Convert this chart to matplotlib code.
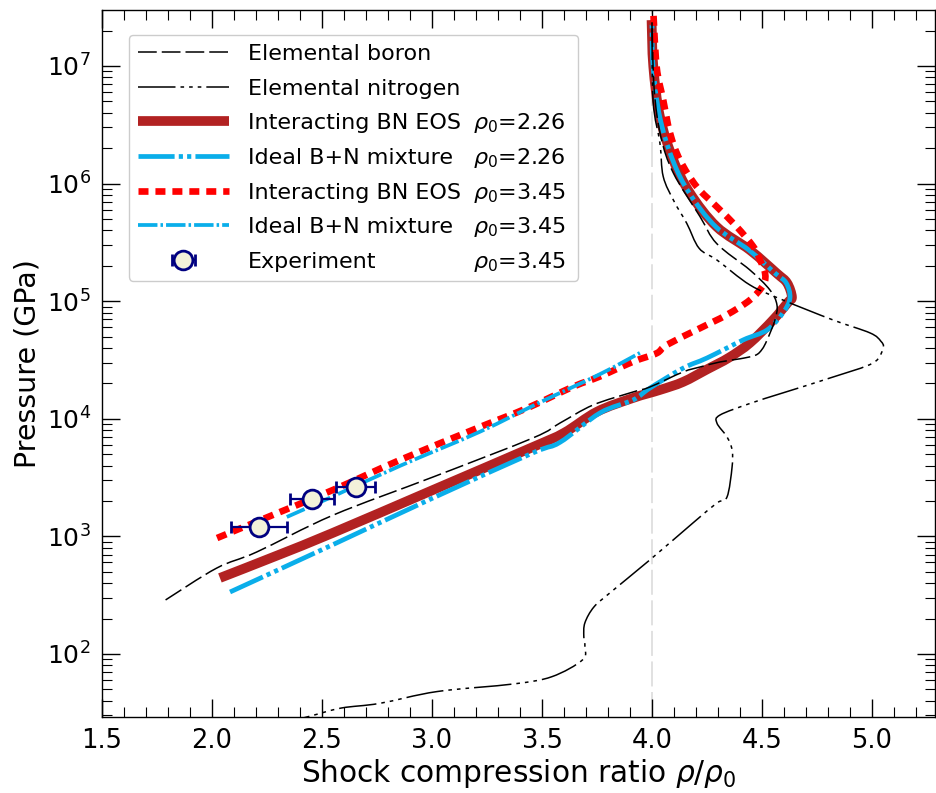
import numpy as np
import matplotlib
matplotlib.use("Agg")
import matplotlib.pyplot as plt
from matplotlib.ticker import MultipleLocator, LogLocator, FixedLocator, NullFormatter
from matplotlib.path import Path
from matplotlib.patches import PathPatch
from matplotlib.lines import Line2D

plt.rcParams['font.family'] = ['DejaVu Sans']
plt.rcParams['mathtext.fontset'] = 'dejavusans'
plt.rcParams['lines.scale_dashes'] = False

# Hugoniot curves: shock compression ratio rho/rho0 and pressure (GPa)
boron_x = [1.789, 2.021, 2.203, 2.55, 3.005, 3.459, 3.582, 3.732, 3.914, 3.99,
           4.141, 4.218, 4.309, 4.40, 4.47, 4.50, 4.523, 4.559, 4.568, 4.536,
           4.445, 4.294, 4.218, 4.097, 4.04, 4.01, 4.0]
boron_p = [288, 537, 736, 1514, 3199, 6871, 9204, 13090, 16900, 18620,
           25000, 27540, 30410, 32360, 34670, 38900, 46770, 69180, 92900, 124500,
           184100, 309000, 524800, 1.23e6, 2.51e6, 6.31e6, 2.34e7]

nitrogen_x = [4.0, 4.005, 4.036, 4.051, 4.10, 4.158, 4.214, 4.295, 4.445, 4.595,
              4.823, 4.991, 5.04, 5.05, 5.005, 4.823, 4.595, 4.445, 4.309, 4.295,
              4.341, 4.364, 4.364, 4.341, 4.295, 4.186, 3.99, 3.809, 3.736, 3.695,
              3.69, 3.695, 3.684, 3.545, 3.371, 3.023, 2.762, 2.588, 2.449, 2.30]
nitrogen_p = [2.34e7, 5.01e6, 2.21e6, 1.148e6, 7.08e5, 4.59e5, 2.82e5, 2.24e5, 1.374e5, 1.023e5,
              6.92e4, 5.37e4, 4.57e4, 3.98e4, 2.985e4, 2.265e4, 16600, 13490, 10760, 9204,
              7000, 5433, 3890, 2163, 1923, 1300, 630, 331, 251, 184,
              141, 115, 89, 64.1, 55.6, 47.9, 38.0, 34.7, 29.7, 25.1]

bn226_x = [2.036, 2.30, 2.55, 3.005, 3.459, 3.60, 3.75, 3.914, 4.036, 4.141,
           4.25, 4.35, 4.445, 4.55, 4.618, 4.636, 4.614, 4.567, 4.445, 4.294,
           4.173, 4.097, 4.036, 4.006, 3.998]
bn226_p = [443, 692, 1072, 2483, 5754, 7586, 11480, 15030, 17580, 20560,
           26300, 33110, 44160, 69180, 97720, 108600, 142900, 172600, 272300, 429500,
           827900, 1.585e6, 3.707e6, 9.86e6, 2.455e7]

ideal226_x = [2.082, 2.55, 3.005, 3.459, 3.582, 3.764, 3.914, 3.99, 4.141, 4.25,
              4.414, 4.523, 4.595, 4.627, 4.61, 4.56, 4.44, 4.29, 4.17, 4.094,
              4.035, 4.005, 4.0]
ideal226_p = [336.5, 851, 2123, 5129, 6310, 11220, 14450, 18200, 26920, 32890,
              46770, 56890, 79430, 106200, 142900, 172600, 272300, 429500, 827900, 1.585e6,
              3.707e6, 9.86e6, 2.239e7]

bn345_x = [2.023, 2.30, 2.55, 2.855, 3.218, 3.43, 3.642, 3.764, 3.915, 4.021,
           4.067, 4.218, 4.339, 4.445, 4.506, 4.514, 4.491, 4.461, 4.385, 4.294,
           4.203, 4.127, 4.082, 4.051, 4.021, 4.005]
bn345_p = [968, 1585, 2483, 4467, 8511, 12270, 18750, 22910, 30620, 36060,
           42460, 58880, 76380, 102300, 137400, 172600, 223900, 290400, 429500, 636800,
           941900, 1.585e6, 2.692e6, 5.14e6, 9.86e6, 3.16e7]

ideal345_x = [2.34, 2.55, 2.855, 3.218, 3.491, 3.764, 3.945]
ideal345_p = [1462, 2188, 3981, 7762, 13800, 23990, 36310]

exp_x = [2.215, 2.456, 2.653]
exp_p = [1208, 2065, 2612]
exp_xerr = [0.127, 0.100, 0.090]

labels = ["Elemental boron", "Elemental nitrogen", "Interacting BN EOS",
          "Ideal B+N mixture", "Interacting BN EOS", "Ideal B+N mixture", "Experiment"]
rho0_labels = [None, None, "2.26", "2.26", "3.45", "3.45", "3.45"]

xticks = [1.5, 2.0, 2.5, 3.0, 3.5, 4.0, 4.5, 5.0]
yticks = [1e2, 1e3, 1e4, 1e5, 1e6, 1e7]


def smooth_curve(xs, ps):
    """Cubic Bezier path (Catmull-Rom tangents) through the points, built in
    (x, log10 p) so that it is smooth on the log-scaled axes."""
    pts = np.column_stack([np.asarray(xs, float), np.log10(np.asarray(ps, float))])
    n = len(pts)
    verts = [pts[0]]
    codes = [Path.MOVETO]
    for i in range(n - 1):
        p0 = pts[max(i - 1, 0)]
        p1 = pts[i]
        p2 = pts[i + 1]
        p3 = pts[min(i + 2, n - 1)]
        verts += [p1 + (p2 - p0) / 6.0, p2 - (p3 - p1) / 6.0, p2]
        codes += [Path.CURVE4] * 3
    verts = np.array(verts)
    verts[:, 1] = 10.0 ** verts[:, 1]
    return Path(verts, codes)


W, H = 936, 793
fig = plt.figure(figsize=(W / 100, H / 100), dpi=100)
ax = fig.add_axes([102 / W, 76 / H, 833 / W, 707 / H])
ax.set_yscale('log')
ax.set_xlim(1.5, 1.5 + 833 / 220)
ax.set_ylim(10 ** 1.464, 10 ** 7.476)

blue = '#0AAEEA'
styles = {
    'boron': dict(color='black', lw=1.1, ls=(0, (13.5, 3.6)), z=5),
    'nitro': dict(color='black', lw=1.1, ls=(0, (27, 3.6, 2.6, 3.6, 2.6, 3.6, 2.6, 3.6)), z=5),
    'bn226': dict(color='#B22222', lw=7, ls='-', z=2),
    'id226': dict(color=blue, lw=3.4, ls=(0, (26, 3, 3, 3, 3, 3)), z=3),
    'bn345': dict(color='#FF0000', lw=4.8, ls=(0, (7.2, 5)), z=4),
    'id345': dict(color=blue, lw=2.7, ls=(0, (14, 2.2, 1.8, 2.2)), z=4.5),
}
series = {
    'boron': (boron_x, boron_p),
    'nitro': (nitrogen_x, nitrogen_p),
    'bn226': (bn226_x, bn226_p),
    'id226': (ideal226_x, ideal226_p),
    'bn345': (bn345_x, bn345_p),
    'id345': (ideal345_x, ideal345_p),
}

ax.axvline(4.0, color='#d9d9d9', lw=1.1, ls=(0, (18, 4)), zorder=1)

proxies = {}
for key, (xs, ps) in series.items():
    st = styles[key]
    patch = PathPatch(smooth_curve(xs, ps), fill=False, edgecolor=st['color'],
                      lw=st['lw'], linestyle=st['ls'], capstyle='butt',
                      joinstyle='round', zorder=st['z'], transform=ax.transData)
    ax.add_patch(patch)
    proxies[key] = Line2D([], [], color=st['color'], lw=st['lw'], ls=st['ls'],
                          solid_capstyle='butt')

h_exp = ax.errorbar(exp_x, exp_p, xerr=exp_xerr, fmt='o', ms=13.5, mfc='#F3F1DA',
                    mec='#000080', mew=2, ecolor='#000080', elinewidth=1.6,
                    capsize=4, capthick=1.6, zorder=6)

ax.set_xticks(xticks)
ax.xaxis.set_minor_locator(MultipleLocator(0.1))
ax.yaxis.set_major_locator(FixedLocator(yticks))
ax.yaxis.set_minor_locator(LogLocator(base=10, subs=np.arange(2, 10), numticks=20))
ax.yaxis.set_minor_formatter(NullFormatter())
ax.tick_params(which='both', direction='in', top=True, right=True, labelsize=18)
ax.tick_params(axis='x', which='major', labelsize=18.5)
ax.tick_params(which='major', length=12.7, width=1.0, pad=8)
ax.tick_params(which='minor', length=7, width=0.8)
for s in ax.spines.values():
    s.set_linewidth(1.0)

ax.set_xlabel(r'Shock compression ratio $\rho/\rho_0$', fontsize=21.3, labelpad=2)
ax.set_ylabel('Pressure (GPa)', fontsize=20.5, labelpad=4)

handles = [proxies['boron'], proxies['nitro'], proxies['bn226'], proxies['id226'],
           proxies['bn345'], proxies['id345'], h_exp]
leg = ax.legend(handles, labels, loc='upper left',
                bbox_to_anchor=(27 / 833, 0.5, 449 / 833, 1 - 25 / 707 - 0.5),
                mode='expand', borderaxespad=0, fontsize=16, handlelength=4.1,
                handletextpad=0.85, labelspacing=0.66, framealpha=1,
                edgecolor='#cccccc', fancybox=True)
leg.set_zorder(10)

# second column of the legend: initial densities, aligned on each row's baseline
fig.canvas.draw()
for t, r in zip(leg.get_texts(), rho0_labels):
    if r is None:
        continue
    xd, yd = t.get_transform().transform(t.get_position())
    fig.text(473 / W, yd / H, r'$\rho_0$=' + r, fontsize=16, ha='left', va='baseline')

fig.savefig('out.png', dpi=100)
